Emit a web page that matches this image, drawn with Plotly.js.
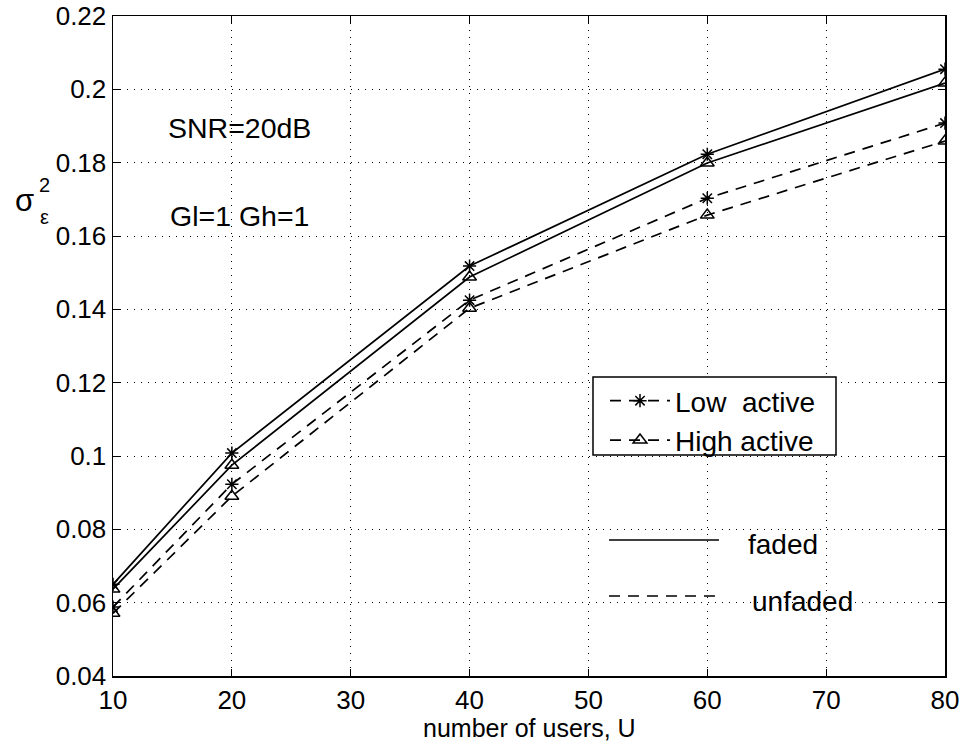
<!DOCTYPE html>
<html>
<head>
<meta charset="utf-8">
<script src="https://cdn.plot.ly/plotly-3.0.1.min.js"></script>
<style>html,body{margin:0;padding:0;background:#fff;}#chart{width:965px;height:743px;}</style>
</head>
<body>
<div id="chart"></div>
<script>
const users = [10, 20, 40, 60, 80];
const fadedLow = [0.065, 0.1008, 0.1518, 0.1823, 0.2055];
const fadedHigh = [0.0637, 0.0975, 0.1488, 0.1799, 0.2017];
const unfadedLow = [0.0588, 0.0923, 0.1425, 0.1703, 0.1908];
const unfadedHigh = [0.0571, 0.089, 0.1403, 0.1657, 0.1859];
const legendNames = ['Low&nbsp; active', 'High active'];
const xTitle = 'number of users, U';

const FONT = '"Liberation Sans", Arial, Helvetica, sans-serif';
const dashPat = '11px,8px';
const starM = {symbol: 'asterisk-open', size: 11, color: '#000', line: {color: '#000', width: 1.5}};
const triM = {symbol: 'triangle-up-open', size: 12, color: '#000', line: {color: '#000', width: 1.5}};

const traces = [
  {x: users, y: fadedLow, mode: 'lines+markers', line: {color: '#000', width: 1.7}, marker: starM, showlegend: false},
  {x: users, y: fadedHigh, mode: 'lines+markers', line: {color: '#000', width: 1.7}, marker: triM, showlegend: false},
  {x: users, y: unfadedLow, mode: 'lines+markers', name: legendNames[0], line: {color: '#000', width: 1.7, dash: dashPat}, marker: starM},
  {x: users, y: unfadedHigh, mode: 'lines+markers', name: legendNames[1], line: {color: '#000', width: 1.7, dash: dashPat}, marker: triM}
];

const px = v => (v - 113) / 832;
const py = v => (676 - v) / 660;

const layout = {
  width: 965, height: 743,
  margin: {l: 113, r: 20, t: 16, b: 67},
  paper_bgcolor: '#fff', plot_bgcolor: '#fff',
  font: {family: FONT, color: '#000'},
  showlegend: true,
  legend: {
    x: px(605), y: py(376), xanchor: 'left', yanchor: 'top',
    bgcolor: 'rgba(0,0,0,0)', borderwidth: 0,
    font: {family: FONT, size: 28, color: '#000'},
    itemwidth: 60, tracegroupgap: 0
  },
  xaxis: {
    range: [10, 80], dtick: 10, tick0: 10,
    showline: true, linecolor: '#000', linewidth: 1.5, mirror: 'ticks',
    ticks: 'inside', ticklen: 7, tickcolor: '#000', tickwidth: 1,
    showgrid: true, gridcolor: '#000', gridwidth: 1, griddash: '1px,6px',
    zeroline: false, ticklabelstandoff: 0,
    tickfont: {family: FONT, size: 26, color: '#000'},
    title: {text: ''}
  },
  yaxis: {
    range: [0.04, 0.22], dtick: 0.02, tick0: 0.04,
    showline: true, linecolor: '#000', linewidth: 1.5, mirror: 'ticks',
    ticks: 'inside', ticklen: 7, tickcolor: '#000', tickwidth: 1,
    showgrid: true, gridcolor: '#000', gridwidth: 1, griddash: '1px,6px',
    zeroline: false,
    tickfont: {family: FONT, size: 26, color: '#000'},
    title: {text: ''}
  },
  shapes: [
    {type: 'rect', xref: 'paper', yref: 'paper', x0: px(593), x1: px(836), y0: py(455), y1: py(377),
     line: {color: '#000', width: 1.5}, fillcolor: '#fff', layer: 'above'},
    {type: 'line', xref: 'paper', yref: 'paper', x0: px(609), x1: px(719), y0: py(540), y1: py(540),
     line: {color: '#000', width: 1.7}},
    {type: 'line', xref: 'paper', yref: 'paper', x0: px(609), x1: px(719), y0: py(596), y1: py(596),
     line: {color: '#000', width: 1.7, dash: dashPat}}
  ],
  annotations: [
    {xref: 'paper', yref: 'paper', x: 0.5, y: py(743), xanchor: 'center', yanchor: 'bottom', showarrow: false,
     borderpad: 0, text: xTitle, font: {family: FONT, size: 25, color: '#000'}},
    {xref: 'paper', yref: 'paper', x: px(166), y: py(128), xanchor: 'left', yanchor: 'middle', showarrow: false,
     text: 'SNR=20dB', font: {family: FONT, size: 28.5, color: '#000'}},
    {xref: 'paper', yref: 'paper', x: px(168), y: py(216), xanchor: 'left', yanchor: 'middle', showarrow: false,
     text: 'Gl=1 Gh=1', font: {family: FONT, size: 28.5, color: '#000'}},
    {xref: 'paper', yref: 'paper', x: px(746), y: py(544), xanchor: 'left', yanchor: 'middle', showarrow: false,
     text: 'faded', font: {family: FONT, size: 28, color: '#000'}},
    {xref: 'paper', yref: 'paper', x: px(750), y: py(601), xanchor: 'left', yanchor: 'middle', showarrow: false,
     text: 'unfaded', font: {family: FONT, size: 28, color: '#000'}},
    {xref: 'paper', yref: 'paper', x: px(24), y: py(200), xanchor: 'center', yanchor: 'middle', showarrow: false,
     text: 'σ', font: {family: FONT, size: 31, color: '#000'}},
    {xref: 'paper', yref: 'paper', x: px(44), y: py(185), xanchor: 'center', yanchor: 'middle', showarrow: false,
     text: '2', font: {family: FONT, size: 20, color: '#000'}},
    {xref: 'paper', yref: 'paper', x: px(44), y: py(217), xanchor: 'center', yanchor: 'middle', showarrow: false,
     text: 'ε', font: {family: FONT, size: 20, color: '#000'}}
  ]
};

Plotly.newPlot('chart', traces, layout, {displayModeBar: false, staticPlot: true});
</script>
</body>
</html>
